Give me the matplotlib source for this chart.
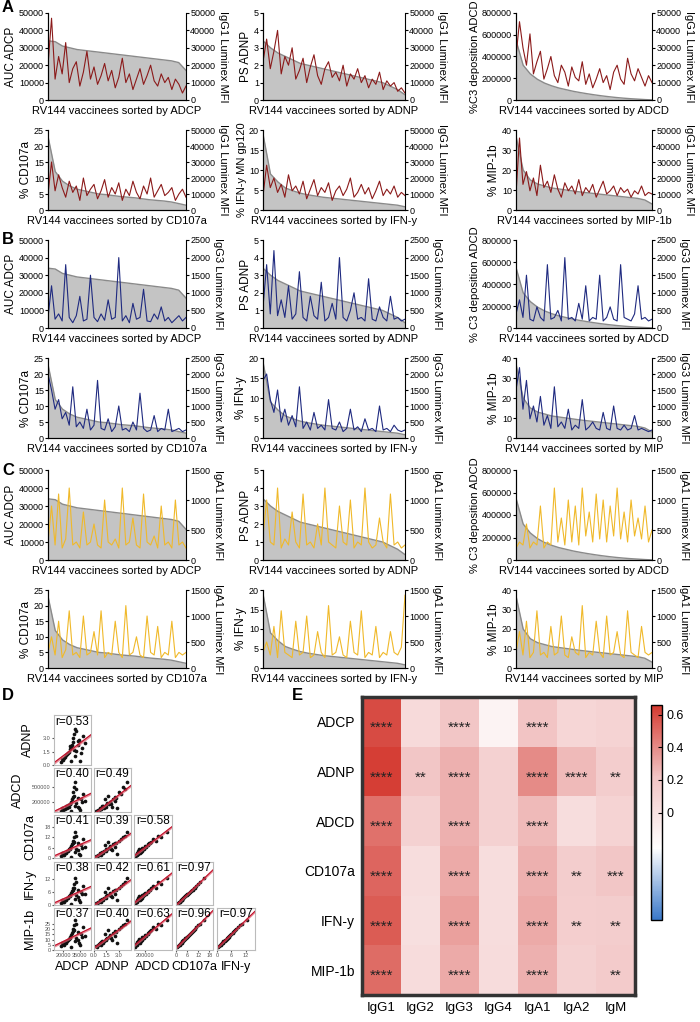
import numpy as np
import matplotlib
matplotlib.use("Agg")
import matplotlib.pyplot as plt
from matplotlib.colors import TwoSlopeNorm, LinearSegmentedColormap

plt.rcParams["font.family"] = ["Liberation Sans", "DejaVu Sans"]

# ---- gray sorted curves (functional assays) ----
gray_adcp = [34000, 33500, 31000, 30000, 29000, 28500, 28000, 27500, 27000, 26500,
             26000, 25500, 25000, 24500, 24000, 23500, 23000, 22500, 21500, 17000]
gray_adnp = [3.4, 3.0, 2.7, 2.5, 2.3, 2.1, 2.0, 1.9, 1.8, 1.7, 1.6, 1.5, 1.4, 1.3, 1.2,
             1.1, 1.0, 0.8, 0.6, 0.3]
gray_adcd = [550000, 320000, 240000, 190000, 155000, 130000, 110000, 95000, 80000, 68000,
             57000, 47000, 38000, 30000, 23000, 17000, 12000, 8000, 4000, 1000]
gray_cd107a = [23, 12, 9, 7.5, 6.5, 6, 5.5, 5, 4.8, 4.5, 4.2, 4, 3.8, 3.5, 3.2, 3, 2.8, 2.5, 2, 1.5]
gray_ifng = [19, 9, 7, 5.5, 4.8, 4.2, 3.8, 3.5, 3.2, 3, 2.8, 2.6, 2.4, 2.2, 2, 1.8, 1.6, 1.4, 1.2, 0.8]
gray_mip = [37, 20, 15, 13, 12, 11, 10.5, 10, 9.5, 9, 8.6, 8.2, 7.8, 7.4, 7, 6.6, 6.2, 5.8, 5, 3]

# ---- antibody lines (A: IgG1 in thousands, B: IgG3, C: IgA1) ----
igg1_adcp = [20, 47, 12, 25, 15, 33, 10, 18, 22, 8, 16, 28, 12, 19, 9, 14, 21, 11, 17, 7,
             13, 24, 10, 15, 6, 12, 18, 9, 14, 20, 11, 8, 15, 10, 13, 6, 12, 9, 4, 8]
igg1_adnp = [22, 35, 18, 28, 40, 15, 25, 20, 30, 12, 17, 24, 10, 19, 26, 14, 9, 18, 22, 13,
             16, 11, 20, 8, 15, 12, 18, 10, 14, 7, 12, 9, 16, 6, 11, 8, 10, 5, 7, 4]
igg1_adcd = [25, 45, 30, 20, 38, 15, 22, 28, 12, 18, 25, 14, 10, 20, 16, 8, 19, 13, 11, 22,
             9, 15, 7, 12, 18, 10, 14, 6, 16, 20, 12, 9, 24, 15, 11, 18, 13, 8, 14, 10]
igg1_cd107a = [10, 30, 12, 22, 14, 8, 18, 11, 15, 6, 20, 9, 13, 16, 7, 12, 19, 8, 14, 10,
               17, 6, 13, 9, 18, 11, 7, 15, 10, 20, 8, 12, 16, 9, 11, 14, 6, 10, 13, 8]
igg1_ifng = [9, 28, 14, 20, 11, 16, 8, 22, 12, 15, 10, 18, 7, 13, 19, 9, 14, 11, 17, 6,
             12, 15, 9, 13, 20, 8, 11, 16, 10, 14, 7, 12, 18, 9, 13, 10, 15, 8, 11, 9]
igg1_mip = [10, 45, 16, 24, 12, 20, 9, 28, 14, 18, 11, 22, 13, 8, 17, 12, 15, 10, 19, 9,
            14, 11, 16, 8, 13, 18, 10, 12, 15, 9, 14, 11, 13, 8, 12, 10, 15, 9, 11, 10]

igg3_adcp = [300, 1200, 250, 400, 200, 1800, 300, 150, 350, 900, 200, 250, 1500, 300, 180, 400,
             220, 800, 250, 300, 2000, 200, 350, 150, 700, 250, 300, 1100, 200, 180, 400, 250,
             600, 200, 300, 150, 250, 350, 200, 300]
igg3_adnp = [600, 1800, 400, 2200, 350, 800, 300, 1200, 250, 400, 1600, 300, 200, 900, 350, 250,
             1300, 200, 300, 700, 250, 2000, 300, 200, 500, 1000, 250, 300, 200, 1400, 250, 200,
             600, 300, 200, 900, 250, 300, 200, 250]
igg3_adcd = [400, 800, 300, 1500, 250, 200, 600, 300, 200, 1800, 250, 300, 500, 200, 2000, 250,
             300, 200, 700, 250, 1200, 200, 300, 250, 1500, 200, 300, 600, 250, 200, 1800, 300,
             250, 200, 400, 1200, 250, 300, 200, 250]
igg3_cd107a = [2000, 1500, 900, 1200, 600, 800, 400, 1600, 350, 500, 300, 900, 250, 400, 1800, 300,
               250, 600, 200, 350, 1000, 250, 300, 200, 500, 250, 1400, 300, 200, 250, 700, 200,
               300, 250, 900, 200, 250, 300, 200, 250]
igg3_ifng = [1800, 2000, 1200, 800, 1500, 500, 900, 400, 700, 350, 1600, 300, 500, 250, 800, 300,
             400, 250, 1200, 300, 250, 500, 200, 300, 900, 250, 350, 200, 600, 250, 300, 200,
             1000, 250, 300, 200, 400, 250, 200, 250]
igg3_mip = [1500, 2200, 900, 1800, 600, 1000, 500, 1300, 400, 700, 300, 1600, 350, 500, 300, 900,
            250, 400, 300, 1200, 250, 350, 500, 300, 250, 800, 300, 250, 1000, 300, 250, 400,
            250, 300, 700, 250, 300, 250, 200, 250]

iga1_adcp = [300, 900, 250, 1100, 200, 350, 1200, 250, 300, 200, 800, 250, 300, 600, 250, 200,
             1000, 300, 250, 350, 200, 1200, 250, 300, 700, 250, 200, 1100, 300, 250, 400, 200,
             900, 250, 300, 200, 1000, 250, 300, 200]
iga1_adnp = [400, 1000, 300, 250, 1200, 200, 350, 250, 800, 300, 200, 1100, 250, 300, 200, 600,
             250, 1200, 300, 250, 200, 900, 300, 250, 1000, 200, 300, 250, 1200, 300, 200, 250,
             700, 300, 200, 1100, 250, 300, 200, 250]
iga1_adcd = [200, 300, 250, 600, 200, 300, 250, 900, 200, 300, 250, 1200, 300, 700, 250, 1000,
             300, 900, 250, 1200, 400, 800, 300, 1100, 350, 1000, 300, 900, 400, 1200, 350, 800,
             300, 1000, 400, 700, 350, 900, 300, 500]
iga1_cd107a = [300, 600, 250, 900, 200, 350, 1100, 250, 300, 200, 1000, 250, 300, 700, 250, 1100,
               200, 300, 250, 900, 300, 200, 1200, 250, 300, 600, 250, 200, 1000, 300, 250, 800,
               200, 300, 250, 900, 200, 300, 250, 300]
iga1_ifng = [300, 500, 250, 800, 200, 1100, 300, 250, 200, 900, 250, 300, 1000, 200, 250, 700,
             300, 200, 1200, 250, 300, 600, 250, 200, 900, 300, 250, 1100, 200, 300, 250, 800,
             200, 300, 250, 700, 300, 250, 400, 1400]
iga1_mip = [300, 700, 250, 900, 200, 300, 1100, 250, 300, 200, 800, 250, 300, 1000, 250, 200,
            600, 300, 250, 1200, 200, 300, 250, 900, 300, 200, 1000, 250, 300, 700, 250, 200,
            1100, 300, 250, 200, 800, 300, 250, 300]

# ---- panel D per-vaccinee values ----
d_adcp = [18000, 20000, 22000, 24000, 25000, 26000, 27000, 28000, 28500, 29000, 30000, 30500,
          31000, 32000, 33000, 34000, 35000, 36000, 38000, 40000, 21000, 23000, 26500, 29500,
          31500, 27500, 24500, 33500, 37000, 19000]
d_adnp = [0.3, 0.6, 0.9, 1.2, 1.5, 1.8, 2.0, 2.3, 2.6, 3.0, 3.5, 4.0, 1.0, 1.6, 2.2, 2.8, 0.5,
          1.3, 3.3, 2.5, 0.8, 1.1, 2.1, 1.7, 3.8, 0.4, 1.4, 2.7, 1.9, 0.7]
d_adcd = [20000, 40000, 60000, 80000, 100000, 150000, 200000, 250000, 300000, 400000, 500000,
          600000, 120000, 180000, 90000, 70000, 30000, 260000, 350000, 220000, 50000, 110000,
          160000, 320000, 450000, 10000, 140000, 280000, 190000, 75000]
d_cd107a = [1, 2, 3, 4, 5, 6, 7, 8, 9, 10, 12, 15, 3.5, 5.5, 4.5, 2.5, 1.5, 7.5, 11, 6.5, 2, 3,
            5, 9.5, 13, 0.5, 4, 8.5, 6, 2.8]
d_ifng = [0.8, 1.5, 2.5, 3.2, 4.1, 4.8, 5.5, 6.6, 7.2, 8.1, 9.8, 12.5, 2.7, 4.5, 3.6, 2.1, 1.2,
          6.0, 9.0, 5.2, 1.6, 2.4, 4.0, 7.7, 10.5, 0.4, 3.3, 6.9, 4.9, 2.2]
d_mip = [3.5, 5.8, 7.2, 9.0, 10.8, 12.5, 14.2, 16.0, 18.1, 20.0, 23.5, 28.5, 8.2, 11.6, 10.0,
         6.5, 4.6, 15.3, 21.7, 13.6, 5.2, 7.0, 11.0, 19.0, 25.0, 2.5, 9.5, 17.2, 12.8, 6.8]
d_names = ["ADCP", "ADNP", "ADCD", "CD107a", "IFN-y", "MIP-1b"]
d_r = [["0.53"], ["0.40", "0.49"], ["0.41", "0.39", "0.58"],
       ["0.38", "0.42", "0.61", "0.97"], ["0.37", "0.40", "0.63", "0.96", "0.97"]]

# ---- panel E heatmap ----
e_rows = ["ADCP", "ADNP", "ADCD", "CD107a", "IFN-y", "MIP-1b"]
e_cols = ["IgG1", "IgG2", "IgG3", "IgG4", "IgA1", "IgA2", "IgM"]
e_vals = [[0.60, 0.05, 0.20, -0.02, 0.22, 0.08, 0.10],
          [0.64, 0.20, 0.28, 0.12, 0.40, 0.25, 0.15],
          [0.48, 0.12, 0.28, 0.12, 0.25, 0.03, 0.10],
          [0.52, 0.03, 0.30, 0.03, 0.28, 0.15, 0.20],
          [0.55, 0.02, 0.33, 0.03, 0.30, 0.14, 0.15],
          [0.50, 0.04, 0.30, 0.04, 0.28, 0.12, 0.16]]
e_stars = [["****", "", "****", "", "****", "", ""],
           ["****", "**", "****", "", "****", "****", "**"],
           ["****", "", "****", "", "****", "", ""],
           ["****", "", "****", "", "****", "**", "***"],
           ["****", "", "****", "", "****", "**", "**"],
           ["****", "", "****", "", "****", "", "**"]]

W, H = 700, 1022
fig = plt.figure(figsize=(7, 10.22), dpi=100)


def rect(x0, y0, x1, y1):
    return [x0 / W, 1 - y1 / H, (x1 - x0) / W, (y1 - y0) / H]


def trace(box, gray, line, color, lmax, lticks, rmax, rticks, ylab, rlab, xlab):
    ax = fig.add_axes(rect(*box))
    n = len(line)
    xg = np.linspace(0, n - 1, len(gray))
    ax.fill_between(xg, 0, gray, color="#c4c4c4", lw=0)
    ax.plot(xg, gray, color="#8a8a8a", lw=1)
    ax.set_xlim(0, n - 1)
    ax.set_ylim(0, lmax)
    ax.set_yticks(lticks)
    ax.set_xticks([])
    ax.set_ylabel(ylab, fontsize=8 if len(ylab) > 14 else 8.5, labelpad=1)
    ax.set_xlabel(xlab, fontsize=8, labelpad=4)
    ax.tick_params(axis="y", labelsize=6.5, length=2, pad=1)
    for s in ("top", "right"):
        ax.spines[s].set_visible(False)
    ax2 = ax.twinx()
    ax2.plot(np.arange(n), line, color=color, lw=0.8)
    ax2.set_ylim(0, rmax)
    ax2.set_yticks(rticks)
    ax2.set_ylabel(rlab, fontsize=8, rotation=270, labelpad=9)
    ax2.tick_params(axis="y", labelsize=6.5, length=2, pad=1)
    ax2.spines["top"].set_visible(False)
    return ax


cols = [(48, 186), (263, 405), (516, 652)]
rows = [(13, 100), (130, 210), (240, 328), (358, 438), (470, 560), (590, 668)]

assays = [
    (gray_adcp, 50000, [0, 10000, 20000, 30000, 40000, 50000], "AUC ADCP", "ADCP"),
    (gray_adnp, 5, [0, 1, 2, 3, 4, 5], "PS ADNP", "ADNP"),
    (gray_adcd, 800000, [0, 200000, 400000, 600000, 800000], "% C3 deposition ADCD", "ADCD"),
    (gray_cd107a, 25, [0, 5, 10, 15, 20, 25], "% CD107a", "CD107a"),
    (gray_ifng, 20, [0, 5, 10, 15, 20], "% IFN-y", "IFN-y"),
    (gray_mip, 40, [0, 10, 20, 30, 40], "% MIP-1b", "MIP-1b"),
]
groups = [
    ([np.array(v) * 1000 for v in (igg1_adcp, igg1_adnp, igg1_adcd, igg1_cd107a, igg1_ifng, igg1_mip)],
     "#8b1a1a", 50000, [0, 10000, 20000, 30000, 40000, 50000], "IgG1 Luminex MFI"),
    ([igg3_adcp, igg3_adnp, igg3_adcd, igg3_cd107a, igg3_ifng, igg3_mip],
     "#1f2a80", 2500, [0, 500, 1000, 1500, 2000, 2500], "IgG3 Luminex MFI"),
    ([iga1_adcp, iga1_adnp, iga1_adcd, iga1_cd107a, iga1_ifng, iga1_mip],
     "#f0b92a", 1500, [0, 500, 1000, 1500], "IgA1 Luminex MFI"),
]
for g, (lines, color, rmax, rticks, rlab) in enumerate(groups):
    for k in range(6):
        gray, lmax, lticks, ylab, name = assays[k]
        r, c = divmod(k, 3)
        y0, y1 = rows[2 * g + r]
        x0, x1 = cols[c]
        if g == 0 and k == 4:
            ylab = "% IFN-y MN gp120"
        if g == 0 and k == 2:
            ylab = "%C3 deposition ADCD"
        xn = name
        if g > 0 and k == 5:
            xn = "MIP"
        trace((x0, y0, x1, y1), gray, lines[k], color, lmax, lticks, rmax, rticks,
              ylab, rlab, "RV144 vaccinees sorted by " + xn)

for lab, y in (("A", 8), ("B", 240), ("C", 470), ("D", 695)):
    fig.text(2 / W, 1 - y / H, lab, fontsize=12, fontweight="bold", va="center")
fig.text(292 / W, 1 - 695 / H, "E", fontsize=12, fontweight="bold", va="center")

# ---- panel D ----
d_data = [d_adcp, d_adnp, d_adcd, d_cd107a, d_ifng, d_mip]
d_lims = [(12000, 45000), (0, 4.5), (0, 700000), (0, 20), (0, 16), (0, 32)]
d_ticks = [[20000, 35000], [0, 1.5, 3], [200000, 500000], [0, 6, 12, 18], [0, 6, 12], [0, 5, 10, 15, 20, 25]]
d_xticks = [[20000, 35000], [0, 1.5, 3], [200000], [0, 6, 12, 18], [0, 6, 12]]
dcols = [(54, 91), (94, 131), (134, 172), (176, 213), (217, 255)]
drows = [(715, 765), (768, 812), (815, 858), (862, 905), (908, 950)]
for i in range(5):
    yi = i + 1
    for j in range(i + 1):
        ax = fig.add_axes(rect(dcols[j][0], drows[i][0], dcols[j][1], drows[i][1]))
        x = np.array(d_data[j], float)
        y = np.array(d_data[yi], float)
        ax.scatter(x, y, s=7, color="#111111", lw=0)
        m, b = np.polyfit(x, y, 1)
        xx = np.linspace(d_lims[j][0], d_lims[j][1], 10)
        ax.fill_between(xx, m * xx + b - 0.04 * d_lims[yi][1], m * xx + b + 0.04 * d_lims[yi][1],
                        color="#e06070", lw=0, alpha=0.7)
        ax.plot(xx, m * xx + b, color="#c0102a", lw=0.8)
        ax.set_xlim(*d_lims[j])
        ax.set_ylim(d_lims[yi][0], d_lims[yi][1] * 1.25)
        ax.text(0.5, 0.99, "r=" + d_r[i][j], transform=ax.transAxes, ha="center", va="top", fontsize=8.5)
        for s in ax.spines.values():
            s.set_color("#bbbbbb")
        ax.tick_params(length=1.5, labelsize=4, pad=1, colors="#555555")
        if j == 0:
            ax.set_yticks(d_ticks[yi])
            ax.set_ylabel(d_names[yi], fontsize=9, labelpad=6)
        else:
            ax.set_yticks([])
        if i == 4:
            ax.set_xticks(d_xticks[j])
            ax.set_xlabel(d_names[j], fontsize=9, labelpad=2)
        else:
            ax.set_xticks([])

# ---- panel E ----
cmap = LinearSegmentedColormap.from_list("bwr2", ["#3a78c8", "#ffffff", "#f2c4c4", "#d43a30"])
norm = TwoSlopeNorm(vmin=-0.1, vcenter=0, vmax=0.66)
axe = fig.add_axes(rect(362, 697, 635, 995))
im = axe.imshow(np.array(e_vals), cmap=cmap, norm=norm, aspect="auto")
for i in range(len(e_rows)):
    for j in range(len(e_cols)):
        if e_stars[i][j]:
            axe.text(j, i + 0.12, e_stars[i][j], ha="center", va="center", fontsize=11, color="#222222")
axe.set_xticks(range(len(e_cols)))
axe.set_xticklabels(e_cols, fontsize=9.5)
axe.set_yticks(range(len(e_rows)))
axe.set_yticklabels(e_rows, fontsize=10)
axe.tick_params(length=0, pad=5)
for s in axe.spines.values():
    s.set_linewidth(2.5)
    s.set_color("#333333")
cax = fig.add_axes(rect(651, 705, 662, 920))
cb = fig.colorbar(im, cax=cax, ticks=[0, 0.2, 0.4, 0.6])
cb.ax.set_yticklabels(["0", "0.2", "0.4", "0.6"])
cb.ax.tick_params(labelsize=9, length=3, direction="in")
cb.outline.set_linewidth(1)

fig.savefig("out.png", dpi=100)
